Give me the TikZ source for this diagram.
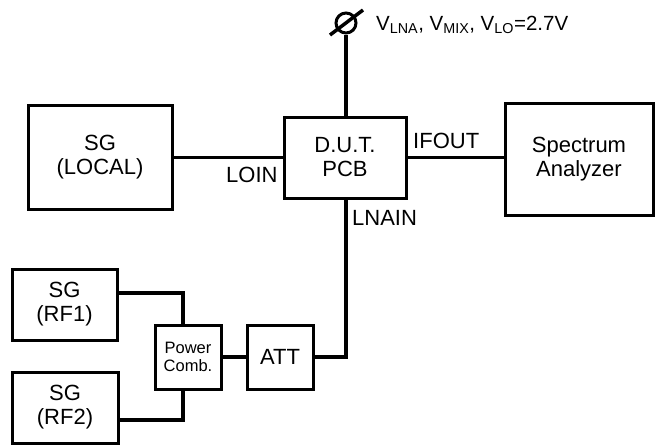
\documentclass[tikz,border=0pt]{standalone}
\usepackage{fontspec}
\setmainfont{Liberation Sans}
\begin{document}
\begin{tikzpicture}[x=1pt,y=-1pt,
  box/.style={draw, line width=3pt, fill=white, align=center, inner sep=0pt,
    font=\fontsize{22}{24}\selectfont},
  smallbox/.style={box, font=\fontsize{16.5}{17.5}\selectfont},
  wire/.style={line width=3.5pt},
  lbl/.style={font=\fontsize{22}{24}\selectfont, inner sep=0pt},
  term/.style={draw, circle, line width=3pt, minimum size=20pt, inner sep=0pt}]
\useasboundingbox (0,0) rectangle (655,445);

\node[box, minimum width=144pt, minimum height=104pt] (sgl) at (100,157) {SG\\(LOCAL)};
\node[box, minimum width=122pt, minimum height=81pt] (dut) at (345,157.5) {D.U.T.\\PCB};
\node[box, minimum width=148pt, minimum height=112pt] (sa) at (579,159) {Spectrum\\Analyzer};
\node[box, minimum width=105pt, minimum height=71pt] (rf1) at (64.5,304.5) {SG\\(RF1)};
\node[box, minimum width=106pt, minimum height=71pt] (rf2) at (65,407.5) {SG\\(RF2)};
\node[smallbox, minimum width=66pt, minimum height=64pt] (pc) at (188,357) {Power\\Comb.};
\node[box, minimum width=66pt, minimum height=64pt] (att) at (280,357) {ATT};
\node[term] (vt) at (346,23) {};

\draw[wire] (vt.south) -- (vt.south |- dut.north);
\draw[wire] ([shift={(-16pt,-12pt)}]vt.center) -- ([shift={(17pt,13pt)}]vt.center);
\draw[wire] (dut.west) -- (dut.west -| sgl.east);
\draw[wire] (dut.east) -- (dut.east -| sa.west);
\draw[wire] (vt.south |- dut.south) |- (att.east);
\draw[wire] (pc.east) -- (att.west);
\draw[wire] ([xshift=-5pt]pc.north) |- ([yshift=11.5pt]rf1.east);
\draw[wire] ([xshift=-5pt]pc.south) |- ([yshift=-12.5pt]rf2.east);

\node[lbl, anchor=base west] (loin) at (226,182) {LOIN};
\node[lbl, anchor=base west] (ifout) at (413,148) {IFOUT};
\node[lbl, anchor=base west] (lnain) at (352,225) {LNAIN};
\node[lbl, anchor=base west, font=\fontsize{20.5}{22}\selectfont] (vlab) at (376,30)
  {V\textsubscript{LNA}, V\textsubscript{MIX}, V\textsubscript{LO}=2.7V};
\end{tikzpicture}
\end{document}
